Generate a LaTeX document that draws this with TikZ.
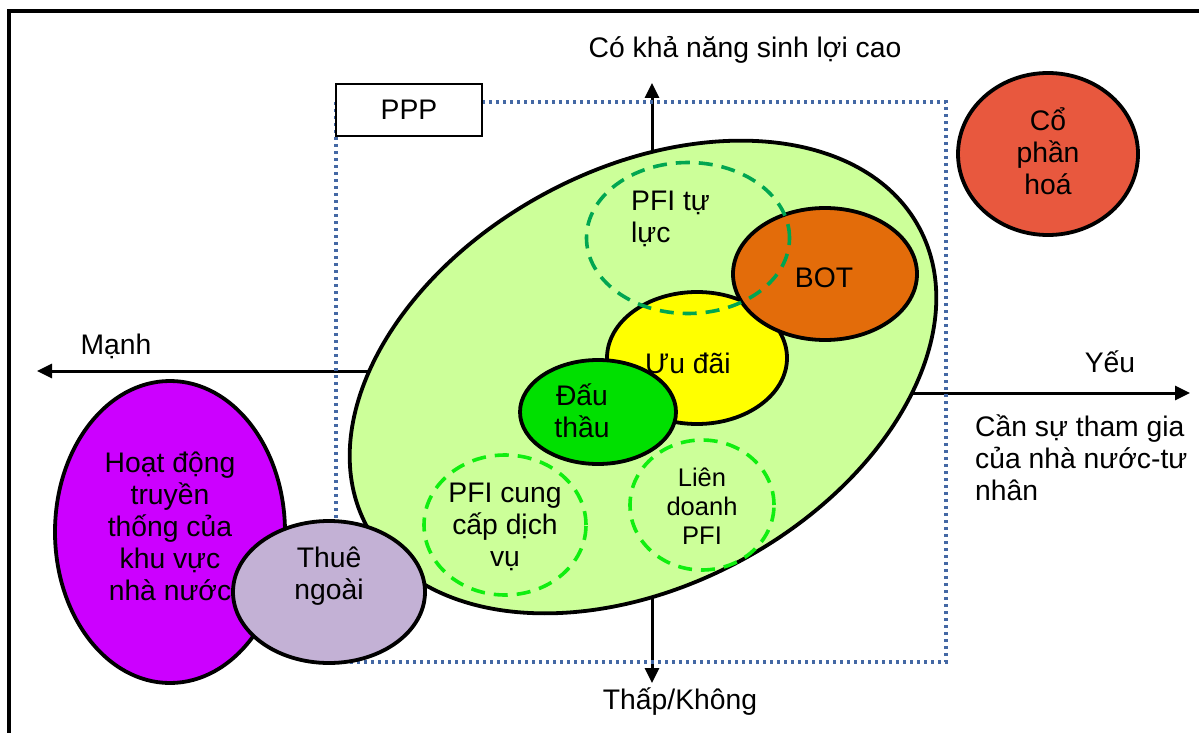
\documentclass[tikz,border=0pt]{standalone}
\usepackage{fontspec}
\setmainfont{Liberation Sans}
\usetikzlibrary{shapes.geometric,arrows.meta,backgrounds}

\definecolor{pppgreen}{HTML}{CCFF99}
\definecolor{stateviolet}{HTML}{CC00FF}
\definecolor{outsrc}{HTML}{C3B1D5}
\definecolor{botorange}{HTML}{E36C0A}
\definecolor{equitize}{HTML}{E8583E}
\definecolor{incentive}{HTML}{FFFF00}
\definecolor{tender}{HTML}{00E000}
\definecolor{pfidark}{HTML}{00A651}
\definecolor{pfibright}{HTML}{10EE10}
\definecolor{frameblue}{HTML}{4468A4}

\begin{document}
\begin{tikzpicture}[x=1pt,y=-1pt,
  every node/.style={font=\fontsize{28.3}{32}\selectfont, inner sep=0pt},
  blob/.style={ellipse, draw=black, line width=3.8pt, inner sep=0pt},
  ring/.style={ellipse, line width=3.6pt, dash pattern=on 14pt off 9pt, inner sep=0pt},
  axis/.style={line width=3pt, -{Triangle[length=15pt,width=14pt]}},
  txt/.style={align=center, text=black}]
\useasboundingbox (0,0) rectangle (1199,733);

% outer frame
\draw[line width=4pt] (9,745) -- (9,11) -- (1212,11);

% PPP region
\draw[frameblue, line width=3.3pt, dash pattern=on 3.3pt off 3.7pt] (336,102) rectangle (946,662);
\node[draw=black, fill=white, line width=2.8pt, minimum width=146, minimum height=52] (pppbox) at (409,110) {PPP};

% large PPP ellipse
\node[blob, fill=pppgreen, rotate=28.5, minimum width=628, minimum height=416] (ppp) at (643,377) {};

% state activities and outsourcing
\node[blob, fill=stateviolet, minimum width=230, minimum height=302] (state) at (170,532) {};
\node[blob, fill=outsrc, minimum width=192, minimum height=142] (outs) at (329,592) {};

% equitization
\node[blob, fill=equitize, minimum width=180, minimum height=162] (cph) at (1048,154) {};

% forms inside PPP
\node[blob, fill=incentive, minimum width=180, minimum height=132] (uudai) at (697,358) {};
\node[blob, fill=botorange, minimum width=184, minimum height=132] (bot) at (825,274) {};
\node[blob, fill=tender, minimum width=156, minimum height=104] (dauthau) at (598,412) {};

% PFI variants
\node[ring, draw=pfidark, minimum width=203, minimum height=151] (pfitl) at (688,238) {};
\node[ring, draw=pfibright, minimum width=162, minimum height=140] (pficc) at (505,525) {};
\node[ring, draw=pfibright, minimum width=144, minimum height=130] (pfild) at (702,505) {};

% axes
\coordinate (axW) at (37,371);
\coordinate (axE) at (1190,393);
\coordinate (axN) at (652,83);
\coordinate (axS) at (652,683);
\begin{pgfonlayer}{background}
\draw[axis] (ppp.center |- axW) -- (axW);
\draw[axis] (ppp.center |- axE) -- (axE);
\draw[axis] (axN |- ppp.center) -- (axN);
\draw[axis] (axS |- ppp.center) -- (axS);
\end{pgfonlayer}

% axis labels
\node[txt] (lblN) at (745,50) {Có khả năng sinh lợi cao};
\node[txt] (lblW) at (116,346) {Mạnh};
\node[txt] (lblE) at (1110,362) {Yếu};
\node[align=left, anchor=west] (lblE2) at (975,458) {Cần sự tham gia\\của nhà nước-tư\\nhân};
\node[txt] (lblS) at (680,702) {Thấp/Không};

% shape labels
\node[txt] (tState) at (170,526) {Hoạt động\\truyền\\thống của\\khu vực\\nhà nước};
\node[txt] (tOuts) at (329,576) {Thuê\\ngoài};
\node[txt] (tCph) at (1048,151) {Cổ\\phần\\hoá};
\node[align=left, anchor=west] (tPfitl) at (631,219) {PFI tự\\lực};
\node[txt] (tBot) at (824,278) {BOT};
\node[txt] (tUudai) at (688,363) {Ưu đãi};
\node[txt] (tDauthau) at (582,411) {Đấu\\thầu};
\node[txt] (tPficc) at (505,527) {PFI cung\\cấp dịch\\vụ};
\node[txt, font=\fontsize{25.5}{29}\selectfont] (tPfild) at (702,506) {Liên\\doanh\\PFI};
\end{tikzpicture}
\end{document}
